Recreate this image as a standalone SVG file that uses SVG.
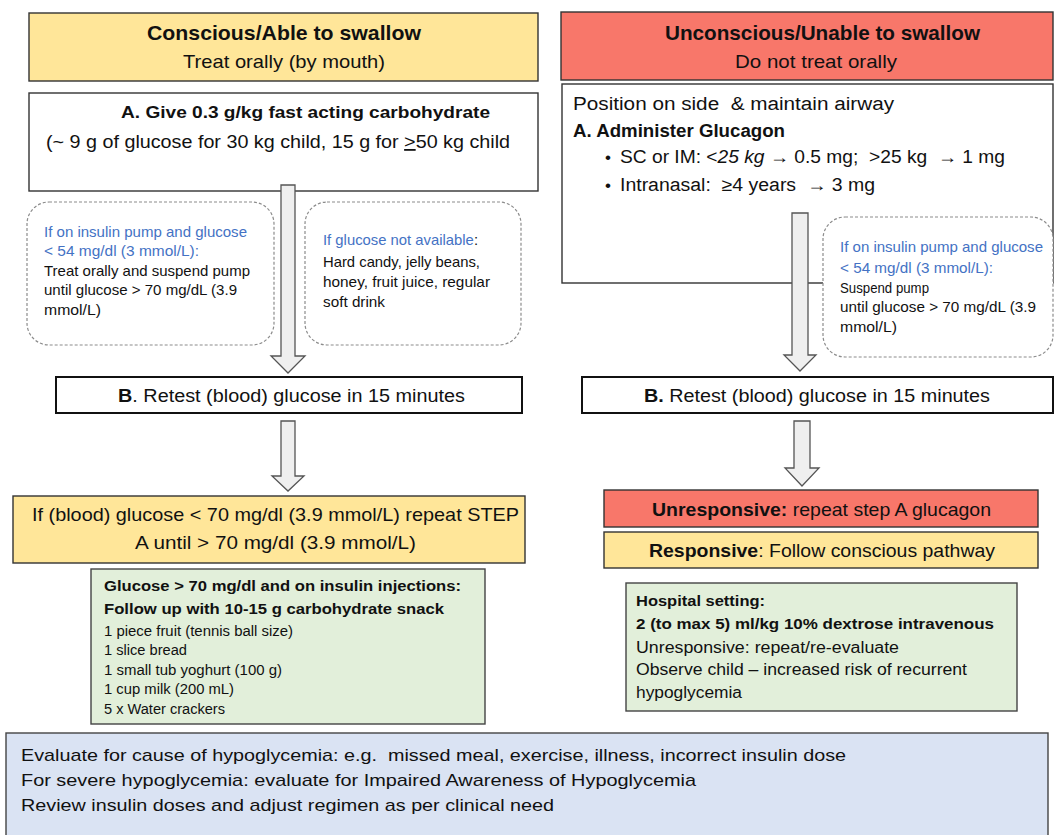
<svg xmlns="http://www.w3.org/2000/svg" width="1055" height="835" viewBox="0 0 1055 835">
<style>
text{font-family:"Liberation Sans",Arial,sans-serif;fill:#111;}
.b{font-weight:bold;}
.blue{fill:#4472C4;}
.box{fill:#fff;stroke:#333;stroke-width:1.4;}
.yel{fill:#FFE699;stroke:#333;stroke-width:1.4;}
.red{fill:#F8776A;stroke:#333;stroke-width:1.4;}
.grn{fill:#E2EFDA;stroke:#444;stroke-width:1.4;}
.blu{fill:#DAE3F3;stroke:#444;stroke-width:1.4;}
.dash{fill:#fff;stroke:#8c8c8c;stroke-width:1.2;stroke-dasharray:3 2;}
.ret{fill:#fff;stroke:#111;stroke-width:2;}
.arr{fill:#EFEFEF;stroke:#555;stroke-width:1.3;}
</style>
<rect width="1055" height="835" fill="#fff"/>

<g id="hdr-conscious">
<rect class="yel" x="29" y="13" width="509" height="68"/>
<text class="b" x="147" y="40" font-size="21" textLength="274" lengthAdjust="spacingAndGlyphs">Conscious/Able to swallow</text>
<text x="183" y="68" font-size="19" textLength="202" lengthAdjust="spacingAndGlyphs">Treat orally (by mouth)</text>
</g>

<g id="hdr-unconscious">
<rect class="red" x="561" y="12" width="492" height="68"/>
<text class="b" x="665" y="40" font-size="21" textLength="315" lengthAdjust="spacingAndGlyphs">Unconscious/Unable to swallow</text>
<text x="735" y="68" font-size="19" textLength="162" lengthAdjust="spacingAndGlyphs">Do not treat orally</text>
</g>

<g id="stepA-left">
<rect class="box" x="29" y="93" width="509" height="98"/>
<text class="b" x="121" y="118" font-size="17" textLength="369" lengthAdjust="spacingAndGlyphs">A. Give 0.3 g/kg fast acting carbohydrate</text>
<text x="46" y="148" font-size="18" textLength="464" lengthAdjust="spacingAndGlyphs">(~ 9 g of glucose for 30 kg child, 15 g for <tspan text-decoration="underline">&gt;</tspan>50 kg child</text>
</g>

<g id="stepA-right">
<rect class="box" x="562" y="84" width="491" height="199"/>
<text x="573" y="110" font-size="18" textLength="321" lengthAdjust="spacingAndGlyphs">Position on side &#160;&amp; maintain airway</text>
<text class="b" x="573" y="137" font-size="18" textLength="212" lengthAdjust="spacingAndGlyphs">A. Administer Glucagon</text>
<text x="605" y="163" font-size="17">•</text>
<text x="620" y="163" font-size="18" textLength="385" lengthAdjust="spacingAndGlyphs">SC or IM: &lt;<tspan font-style="italic">25 kg</tspan> → 0.5 mg; &#160;&gt;25 kg &#160;→ 1 mg</text>
<text x="605" y="191" font-size="17">•</text>
<text x="620" y="191" font-size="18" textLength="255" lengthAdjust="spacingAndGlyphs">Intranasal: &#160;≥4 years &#160;→ 3 mg</text>
</g>

<g id="note-pump-left">
<rect class="dash" x="27" y="202" width="247" height="143" rx="22"/>
<text class="blue" x="44" y="237" font-size="15" textLength="203" lengthAdjust="spacingAndGlyphs">If on insulin pump and glucose</text>
<text class="blue" x="44" y="256" font-size="15" textLength="155" lengthAdjust="spacingAndGlyphs">&lt; 54 mg/dl (3 mmol/L):</text>
<text x="44" y="276" font-size="15" textLength="206" lengthAdjust="spacingAndGlyphs">Treat orally and suspend pump</text>
<text x="44" y="295" font-size="15" textLength="193" lengthAdjust="spacingAndGlyphs">until glucose &gt; 70 mg/dL (3.9</text>
<text x="44" y="315" font-size="15" textLength="57" lengthAdjust="spacingAndGlyphs">mmol/L)</text>
</g>

<g id="note-noglucose">
<rect class="dash" x="305" y="202" width="216" height="143" rx="22"/>
<text x="323" y="245" font-size="15" textLength="155" lengthAdjust="spacingAndGlyphs"><tspan class="blue">If glucose not available</tspan>:</text>
<text x="323" y="267" font-size="15" textLength="157" lengthAdjust="spacingAndGlyphs">Hard candy, jelly beans,</text>
<text x="323" y="287" font-size="15" textLength="167" lengthAdjust="spacingAndGlyphs">honey, fruit juice, regular</text>
<text x="323" y="307" font-size="15" textLength="62" lengthAdjust="spacingAndGlyphs">soft drink</text>
</g>

<g id="note-pump-right">
<rect class="dash" x="823" y="217" width="230" height="140" rx="22"/>
<text class="blue" x="840" y="252" font-size="15" textLength="203" lengthAdjust="spacingAndGlyphs">If on insulin pump and glucose</text>
<text class="blue" x="840" y="273" font-size="15" textLength="153" lengthAdjust="spacingAndGlyphs">&lt; 54 mg/dl (3 mmol/L):</text>
<text x="840" y="293" font-size="15" textLength="89" lengthAdjust="spacingAndGlyphs">Suspend pump</text>
<text x="840" y="312" font-size="15" textLength="196" lengthAdjust="spacingAndGlyphs">until glucose &gt; 70 mg/dL (3.9</text>
<text x="840" y="332" font-size="15" textLength="57" lengthAdjust="spacingAndGlyphs">mmol/L)</text>
</g>

<g id="stepB-left">
<rect class="ret" x="56" y="377" width="466" height="36"/>
<text x="118" y="402" font-size="18" textLength="347" lengthAdjust="spacingAndGlyphs"><tspan class="b">B</tspan>. Retest (blood) glucose in 15 minutes</text>
</g>

<g id="stepB-right">
<rect class="ret" x="582" y="377" width="471" height="36"/>
<text x="644" y="402" font-size="18" textLength="346" lengthAdjust="spacingAndGlyphs"><tspan class="b">B.</tspan> Retest (blood) glucose in 15 minutes</text>
</g>

<g id="repeat-left">
<rect class="yel" x="13" y="496" width="512" height="67"/>
<text x="32" y="521" font-size="18.5" textLength="487" lengthAdjust="spacingAndGlyphs">If (blood) glucose &lt; 70 mg/dl (3.9 mmol/L) repeat STEP</text>
<text x="135" y="549" font-size="18.5" textLength="281" lengthAdjust="spacingAndGlyphs">A until &gt; 70 mg/dl (3.9 mmol/L)</text>
</g>

<g id="snack-left">
<rect class="grn" x="91" y="569" width="394" height="155"/>
<text class="b" x="104" y="591" font-size="14.5" textLength="357" lengthAdjust="spacingAndGlyphs">Glucose &gt; 70 mg/dl and on insulin injections:</text>
<text class="b" x="104" y="614" font-size="14.5" textLength="340" lengthAdjust="spacingAndGlyphs">Follow up with 10-15 g carbohydrate snack</text>
<text x="104" y="636" font-size="14" textLength="189" lengthAdjust="spacingAndGlyphs">1 piece fruit (tennis ball size)</text>
<text x="104" y="655" font-size="14" textLength="83" lengthAdjust="spacingAndGlyphs">1 slice bread</text>
<text x="104" y="675" font-size="14" textLength="178" lengthAdjust="spacingAndGlyphs">1 small tub yoghurt (100 g)</text>
<text x="104" y="694" font-size="14" textLength="130" lengthAdjust="spacingAndGlyphs">1 cup milk (200 mL)</text>
<text x="104" y="714" font-size="14" textLength="121" lengthAdjust="spacingAndGlyphs">5 x Water crackers</text>
</g>

<g id="unresponsive">
<rect class="red" x="604" y="490" width="434" height="37"/>
<text x="652" y="516" font-size="18.5" textLength="339" lengthAdjust="spacingAndGlyphs"><tspan class="b">Unresponsive:</tspan> repeat step A glucagon</text>
</g>

<g id="responsive">
<rect class="yel" x="604" y="532" width="434" height="36"/>
<text x="649" y="557" font-size="18.5" textLength="346" lengthAdjust="spacingAndGlyphs"><tspan class="b">Responsive</tspan>: Follow conscious pathway</text>
</g>

<g id="hospital">
<rect class="grn" x="626" y="583" width="391" height="128"/>
<text class="b" x="636" y="606" font-size="15.5" textLength="129" lengthAdjust="spacingAndGlyphs">Hospital setting:</text>
<text class="b" x="636" y="629" font-size="15.5" textLength="358" lengthAdjust="spacingAndGlyphs">2 (to max 5) ml/kg 10% dextrose intravenous</text>
<text x="636" y="653" font-size="16" textLength="263" lengthAdjust="spacingAndGlyphs">Unresponsive: repeat/re-evaluate</text>
<text x="636" y="675" font-size="16" textLength="331" lengthAdjust="spacingAndGlyphs">Observe child – increased risk of recurrent</text>
<text x="636" y="698" font-size="16" textLength="106" lengthAdjust="spacingAndGlyphs">hypoglycemia</text>
</g>

<g id="evaluate">
<rect class="blu" x="6" y="733" width="1042" height="110"/>
<text x="21" y="761" font-size="17" textLength="825" lengthAdjust="spacingAndGlyphs">Evaluate for cause of hypoglycemia: e.g. &#160;missed meal, exercise, illness, incorrect insulin dose</text>
<text x="21" y="786" font-size="17" textLength="675" lengthAdjust="spacingAndGlyphs">For severe hypoglycemia: evaluate for Impaired Awareness of Hypoglycemia</text>
<text x="21" y="811" font-size="17" textLength="533" lengthAdjust="spacingAndGlyphs">Review insulin doses and adjust regimen as per clinical need</text>
</g>

<g id="connectors">
<path class="arr" d="M281,185 H295 V356 H305 L288,373 L271,356 H281 Z"/>
<path class="arr" d="M281,421 H295 V476 H304 L288,491 L272,476 H281 Z"/>
<path class="arr" d="M792,213 H808 V355 H816 L800,371 L784,355 H792 Z"/>
<path class="arr" d="M794,421 H810 V468 H819 L802,486 L785,468 H794 Z"/>
</g>
</svg>
